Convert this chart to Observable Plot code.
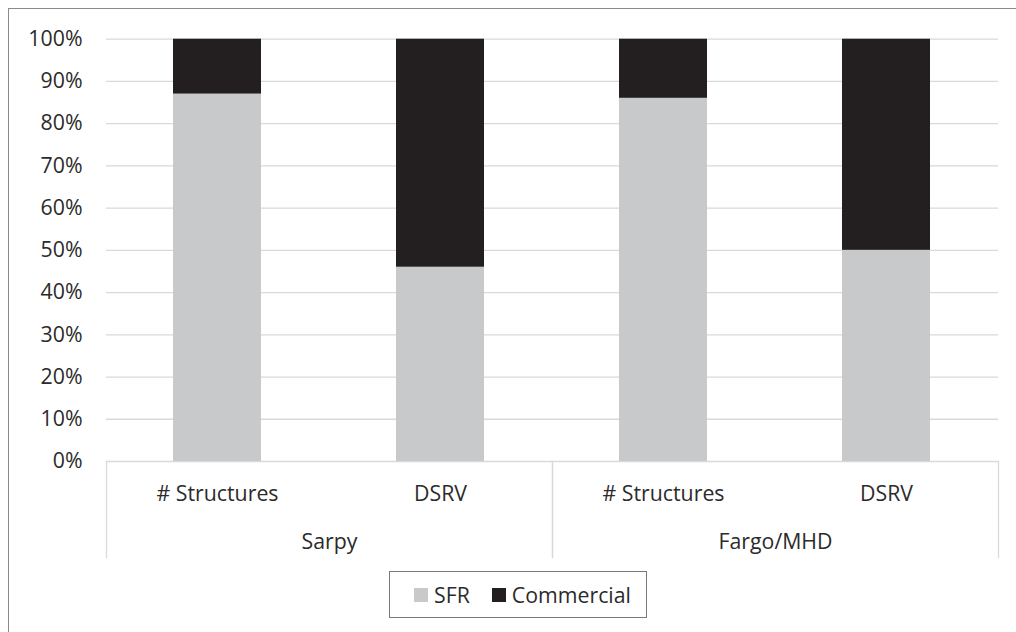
<!DOCTYPE html>
<html>
<head>
<meta charset="utf-8">
<script src="https://cdn.jsdelivr.net/npm/d3@7"></script>
<script src="https://cdn.jsdelivr.net/npm/@observablehq/plot@0.6"></script>
<style>
  html, body { margin: 0; padding: 0; background: #fff; }
  body { width: 1016px; height: 632px; overflow: hidden; position: relative; font-family: "Open Sans", sans-serif; color: #2b2b2b; }
  #border { position: absolute; left: 8px; top: 8px; width: 1100px; height: 700px; border-left: 1.5px solid #8a8a8a; border-top: 1.5px solid #8a8a8a; }
  #chart { position: absolute; left: 0; top: 0; }
  #legend { position: absolute; left: 389px; top: 571px; width: 256px; height: 45px; border: 1.5px solid #7a7a7a; box-sizing: content-box;
            display: flex; align-items: center; padding-left: 0; font-size: 21.3px; background: #fff; }
  #legend .item { display: flex; align-items: center; }
  #legend .sw { width: 14px; height: 14px; margin-right: 6px; }
</style>
</head>
<body>
<div id="border"></div>
<div id="chart"></div>
<div id="legend"></div>
<script>
const groups = ["Sarpy", "Sarpy", "Fargo/MHD", "Fargo/MHD"];
const categories = ["# Structures", "DSRV", "# Structures", "DSRV"];
const sfrValues = [0.87, 0.46, 0.86, 0.50];
const commercialValues = [0.13, 0.54, 0.14, 0.50];
const seriesNames = ["SFR", "Commercial"];
const seriesColors = ["#c8c9cb", "#231f20"];
const yTicks = [0, 0.1, 0.2, 0.3, 0.4, 0.5, 0.6, 0.7, 0.8, 0.9, 1.0];

const rows = [];
groups.forEach((g, i) => {
  rows.push({group: g, category: categories[i], series: "SFR", value: sfrValues[i]});
  rows.push({group: g, category: categories[i], series: "Commercial", value: commercialValues[i]});
});

const H = 565, mTop = 38.7, mBottom = 104;
const plotH = H - mTop - mBottom;
const gridColor = "#d9d9d9";

const chart = Plot.plot({
  width: 1016,
  height: H,
  marginTop: mTop,
  marginBottom: mBottom,
  marginLeft: 106,
  marginRight: 18,
  style: {fontFamily: "Open Sans, sans-serif", color: "#2b2b2b", background: "transparent"},
  fx: {domain: ["Sarpy", "Fargo/MHD"], padding: 0, axis: null},
  x: {domain: ["# Structures", "DSRV"], paddingInner: 0.605, paddingOuter: 0.3025, axis: null},
  y: {domain: [0, 1], axis: null},
  color: {domain: seriesNames, range: seriesColors},
  marks: [
    Plot.ruleY(yTicks, {stroke: gridColor, strokeWidth: 1.3}),
    Plot.barY(rows, {fx: "group", x: "category", y: "value", fill: "series"}),
    Plot.frame({anchor: "left", stroke: gridColor, strokeWidth: 1.3, insetTop: plotH, insetBottom: -96}),
    Plot.frame({anchor: "right", stroke: gridColor, strokeWidth: 1.3, insetTop: plotH, insetBottom: -96}),
    Plot.axisY({ticks: yTicks, tickFormat: d3.format(".0%"), tickSize: 0, tickPadding: 24, fontSize: 21.3, label: null}),
    Plot.axisX({tickSize: 0, tickPadding: 24, fontSize: 21.3, label: null}),
    Plot.axisFx({anchor: "bottom", tickSize: 0, tickPadding: 72, fontSize: 21.3, label: null})
  ]
});
document.getElementById("chart").appendChild(chart);

const legend = document.getElementById("legend");
seriesNames.forEach((name, i) => {
  const item = document.createElement("div");
  item.className = "item";
  item.style.marginLeft = i === 0 ? "24px" : "22px";
  const sw = document.createElement("div");
  sw.className = "sw";
  sw.style.background = seriesColors[i];
  const t = document.createElement("span");
  t.textContent = name;
  item.appendChild(sw);
  item.appendChild(t);
  legend.appendChild(item);
});
</script>
</body>
</html>
